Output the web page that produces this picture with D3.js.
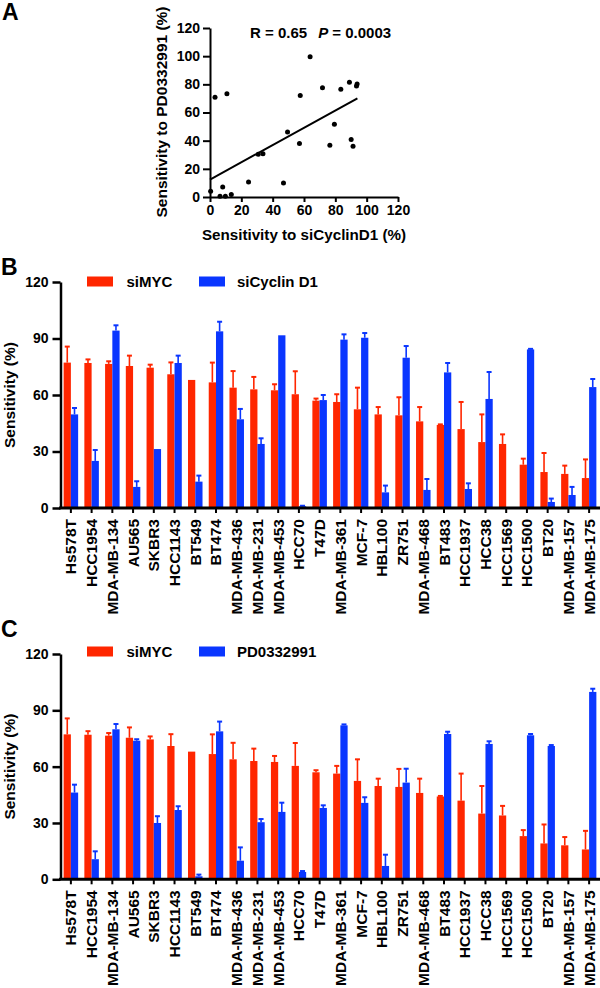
<!DOCTYPE html>
<html><head><meta charset="utf-8">
<script src="https://cdn.jsdelivr.net/npm/d3@7"></script>
<style>
body{margin:0;background:#fff}
svg{display:block;background:#fff}
text{font-family:"Liberation Sans",Arial,sans-serif;font-weight:bold;fill:#000}
</style>
</head><body>
<svg id="chart" width="600" height="988"></svg>
<script>
// ---------- DATA ----------
const cellLines = ["Hs578T","HCC1954","MDA-MB-134","AU565","SKBR3","HCC1143","BT549","BT474","MDA-MB-436","MDA-MB-231","MDA-MB-453","HCC70","T47D","MDA-MB-361","MCF-7","HBL100","ZR751","MDA-MB-468","BT483","HCC1937","HCC38","HCC1569","HCC1500","BT20","MDA-MB-157","MDA-MB-175"];
const siMYC    = [77.2,77.0,76.5,75.4,74.5,71.0,68.0,66.7,63.9,63.0,62.5,60.4,57.0,56.3,52.4,49.7,49.2,46.0,44.1,41.9,35.0,34.0,23.0,19.1,18.1,15.9];
const siMYCErr = [8.5,1.9,1.4,5.5,1.6,6.3,0,10.5,8.8,6.6,3.2,12.2,1.1,4.1,11.5,3.9,9.6,7.6,0.3,14.4,14.7,5.1,3.2,10.1,4.4,9.9];
const siCyclinD1    = [49.7,25.0,94.2,11.2,31.3,77.0,14.0,93.8,47.1,34.0,91.7,0.9,57.3,89.4,90.4,8.3,79.8,9.6,72.0,10.1,57.9,0,84.2,3.2,6.9,64.2];
const siCyclinD1Err = [3.4,5.8,2.8,3.0,0,3.9,3.2,5.1,5.5,3.0,0,0.3,2.7,2.8,2.5,3.6,6.2,5.8,5.0,3.0,14.3,0,0.3,1.8,4.3,4.3];
const pd0332991    = [46.2,10.7,79.9,73.8,30.0,36.9,1.6,78.8,9.9,30.4,35.9,3.9,38.0,82.0,40.7,7.1,51.5,0,77.4,0,72.1,0,76.7,71.0,0,99.8];
const pd0332991Err = [4.2,4.2,2.8,0.8,3.6,2.0,0.9,5.2,7.1,1.7,4.9,0.5,1.4,0.5,3.0,6.0,7.4,0,1.2,0,1.4,0,0.7,0.5,0,1.7];

const scatterX = [0.4,3.2,10.8,8.1,6.4,9.8,13.6,24.6,30.8,33.8,49.5,46.9,57.1,57.6,63.9,71.8,76.5,79.4,83.5,89.0,90.1,91.3,93.5,93.9];
const scatterY = [4.0,70.8,73.4,7.1,0.5,0.5,1.7,10.7,30.4,30.7,46.1,10.0,38.0,72.0,99.6,77.5,36.8,51.6,76.5,81.5,40.9,36.1,78.9,80.3];
const fitX = [0, 94.1];
const fitY = [12.4, 70.1];

const scatterTicks = [0,20,40,60,80,100,120];
const barTicks = [0,30,60,90,120];

// ---------- STYLE ----------
const RED = "#ff2600", BLUE = "#0a36ff";
const FONT = '"Liberation Sans", Arial, sans-serif';
const svg = d3.select("#chart");

function styleAxis(g, sw){
  g.attr("font-size",14).attr("font-family",FONT).attr("font-weight","bold");
  g.select(".domain").attr("stroke","#000").attr("stroke-width",sw);
  g.selectAll(".tick line").attr("stroke","#000").attr("stroke-width",sw);
  g.selectAll(".tick text").attr("fill","#000");
}

// ---------- PANEL A ----------
const ax = d3.scaleLinear().domain([0,120]).range([210,398]);
const ay = d3.scaleLinear().domain([0,120]).range([197,28]);
const gA = svg.append("g");
gA.append("text").attr("x",2).attr("y",20).attr("font-size",23).text("A");

styleAxis(gA.append("g").attr("transform","translate(0,197)")
  .call(d3.axisBottom(ax).tickValues(scatterTicks).tickSize(5).tickSizeOuter(0).tickPadding(3)), 2);
styleAxis(gA.append("g").attr("transform","translate(210,0)")
  .call(d3.axisLeft(ay).tickValues(scatterTicks).tickSize(7).tickSizeOuter(0).tickPadding(3)), 2);

gA.selectAll("circle.pt").data(scatterX).join("circle").attr("class","pt")
  .attr("cx",(d)=>ax(d)).attr("cy",(d,i)=>ay(scatterY[i])).attr("r",2.5).attr("fill","#000");
gA.append("line").attr("x1",ax(fitX[0])).attr("y1",ay(fitY[0])).attr("x2",ax(fitX[1])).attr("y2",ay(fitY[1]))
  .attr("stroke","#000").attr("stroke-width",2);

const rp = gA.append("text").attr("x",250).attr("y",38).attr("font-size",15);
rp.append("tspan").text("R = 0.65");
rp.append("tspan").attr("dx",11).attr("font-style","italic").text("P");
rp.append("tspan").text(" = 0.0003");

gA.append("text").attr("transform","translate(167,112) rotate(-90)").attr("text-anchor","middle")
  .attr("font-size",15.5).text("Sensitivity to PD0332991 (%)");
gA.append("text").attr("x",304).attr("y",240).attr("text-anchor","middle")
  .attr("font-size",15.2).text("Sensitivity to siCyclinD1 (%)");

// ---------- BAR PANELS ----------
function barPanel(o){
  const g = svg.append("g");
  const x = d3.scaleBand().domain(cellLines).range([60,600]).paddingInner(0.3).paddingOuter(0.175);
  const xi = d3.scaleBand().domain(["a","b"]).range([0,x.bandwidth()]);
  const y = d3.scaleLinear().domain([0,120]).range([o.y0,o.y120]);

  g.append("text").attr("x",1).attr("y",o.letterY).attr("font-size",23).text(o.letter);

  const series = [
    {key:"a", vals:siMYC, errs:siMYCErr, color:RED},
    {key:"b", vals:o.vals, errs:o.errs, color:BLUE}
  ];
  series.forEach(s=>{
    const sg = g.append("g");
    const cx = (c)=>x(c)+xi(s.key)+xi.bandwidth()/2;
    const top = (c)=>{const i=cellLines.indexOf(c); return y(s.vals[i]+s.errs[i]);};
    sg.selectAll("rect").data(cellLines).join("rect")
      .attr("x",(c)=>x(c)+xi(s.key)).attr("width",xi.bandwidth())
      .attr("y",(c,i)=>y(s.vals[i])).attr("height",(c,i)=>y(0)-y(s.vals[i]))
      .attr("fill",s.color);
    const eg = sg.selectAll("g.err").data(cellLines.filter((c,i)=>s.errs[i]>0)).join("g").attr("class","err");
    eg.append("line")
      .attr("x1",cx).attr("x2",cx)
      .attr("y1",(c)=>y(s.vals[cellLines.indexOf(c)])).attr("y2",top)
      .attr("stroke",s.color).attr("stroke-width",1.6);
    eg.append("line")
      .attr("x1",(c)=>cx(c)-2.5).attr("x2",(c)=>cx(c)+2.5)
      .attr("y1",top).attr("y2",top)
      .attr("stroke",s.color).attr("stroke-width",2);
  });

  // y axis
  styleAxis(g.append("g").attr("transform","translate(60.5,0)")
    .call(d3.axisLeft(y).tickValues(barTicks).tickSize(8).tickSizeOuter(0).tickPadding(4)), 2.5);
  // x axis
  const xa = g.append("g").attr("transform",`translate(0,${o.y0})`)
    .call(d3.axisBottom(x).tickSize(5).tickSizeOuter(0).tickFormat(""));
  xa.select(".domain").attr("stroke","#000").attr("stroke-width",3).attr("d",`M59,0H600`);
  xa.selectAll(".tick line").attr("stroke","#000").attr("stroke-width",2);

  g.selectAll("text.cat").data(cellLines).join("text").attr("class","cat")
    .attr("transform",(c)=>`translate(${x(c)+x.bandwidth()/2+5.5},${o.y0+11}) rotate(-90)`)
    .attr("text-anchor","end").attr("font-size",15.5).text((c)=>c);

  g.append("text").attr("transform",`translate(14.5,${(o.y0+o.y120)/2}) rotate(-90)`)
    .attr("text-anchor","middle").attr("font-size",15.5).text("Sensitivity (%)");

  // legend
  const ly = o.legendY;
  g.append("rect").attr("x",87).attr("y",ly).attr("width",26).attr("height",10).attr("fill",RED);
  g.append("text").attr("x",126.5).attr("y",ly+10.5).attr("font-size",15).text("siMYC");
  g.append("rect").attr("x",199).attr("y",ly).attr("width",26).attr("height",10).attr("fill",BLUE);
  g.append("text").attr("x",237).attr("y",ly+10.5).attr("font-size",15).text(o.label);
}

barPanel({letter:"B", letterY:275, y0:508, y120:282, legendY:276.5, vals:siCyclinD1, errs:siCyclinD1Err, label:"siCyclin D1"});
barPanel({letter:"C", letterY:637, y0:879.3, y120:654, legendY:646.5, vals:pd0332991, errs:pd0332991Err, label:"PD0332991"});
</script>
</body></html>
